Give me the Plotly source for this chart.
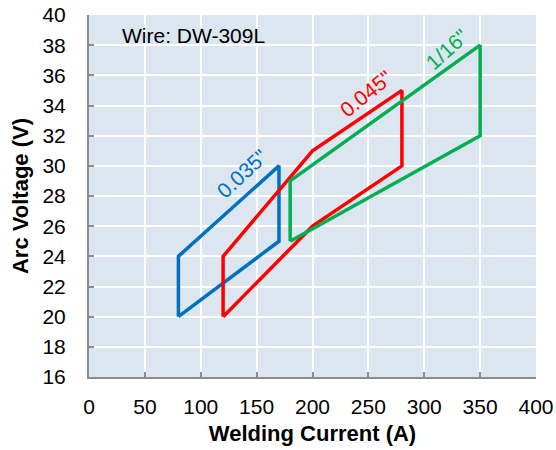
import plotly.graph_objects as go

# welding envelopes, closed polygons (current A, voltage V)
wire_labels = ['0.035"', '0.045"', '1/16"']
current_035 = [80, 80, 170, 170, 80]
voltage_035 = [20, 24, 30, 25, 20]
current_045 = [120, 120, 200, 280, 280, 200, 120]
voltage_045 = [20, 24, 31, 35, 30, 26, 20]
current_116 = [180, 180, 350, 350, 180]
voltage_116 = [25, 29, 38, 32, 25]

colors = ['#0070C0', '#FF0000', '#00B050']

# label anchor positions in data units + angle
label_x = [137, 248, 320]
label_y = [29.5, 34.8, 37.7]
label_angle = [-43, -39, -42]

FONT = "Liberation Sans, Arial, sans-serif"

fig = go.Figure()
series = [(current_035, voltage_035), (current_045, voltage_045), (current_116, voltage_116)]
for (x, y), c, name in zip(series, colors, wire_labels):
    fig.add_trace(go.Scatter(
        x=x, y=y, mode='lines', name=name,
        line=dict(color=c, width=3.5),
    ))

for name, c, lx, ly, ang in zip(wire_labels, colors, label_x, label_y, label_angle):
    fig.add_annotation(x=lx, y=ly, text=name, showarrow=False, textangle=ang,
                       font=dict(family=FONT, size=21, color=c))

fig.add_annotation(x=0.069, y=0.942, xref='paper', yref='paper', text='Wire: DW-309L',
                   showarrow=False, xanchor='left', yanchor='middle',
                   font=dict(family=FONT, size=21, color='black'))

axis_common = dict(
    showgrid=True, gridcolor='white', gridwidth=2,
    showline=True, linecolor='#8C8C8C', linewidth=2,
    ticks='inside', ticklen=5, tickcolor='#8C8C8C', tickwidth=1.5,
    zeroline=False, automargin=False, ticklabeloverflow='allow',
    tickfont=dict(family=FONT, size=21, color='black'),
)

fig.update_layout(
    width=556, height=450,
    margin=dict(l=89, r=20, t=15, b=73),
    paper_bgcolor='white', plot_bgcolor='#DCE6F1',
    showlegend=False,
    xaxis=dict(range=[0, 400], dtick=50, tickmode='linear', tick0=0,
               ticklabelstandoff=10,
               title=dict(text='<b>Welding Current (A)</b>', standoff=8,
                          font=dict(family=FONT, size=22, color='black')),
               **axis_common),
    yaxis=dict(range=[16, 40], dtick=2, tickmode='linear', tick0=16,
               ticklabelstandoff=17,
               title=dict(text='<b>Arc Voltage (V)</b>', standoff=8,
                          font=dict(family=FONT, size=22, color='black')),
               **axis_common),
)

# drop the default 8px body margin so the figure fills the window exactly
fig.write_html("out.html", config={'displayModeBar': False},
               post_script="document.body.style.margin='0px';")
